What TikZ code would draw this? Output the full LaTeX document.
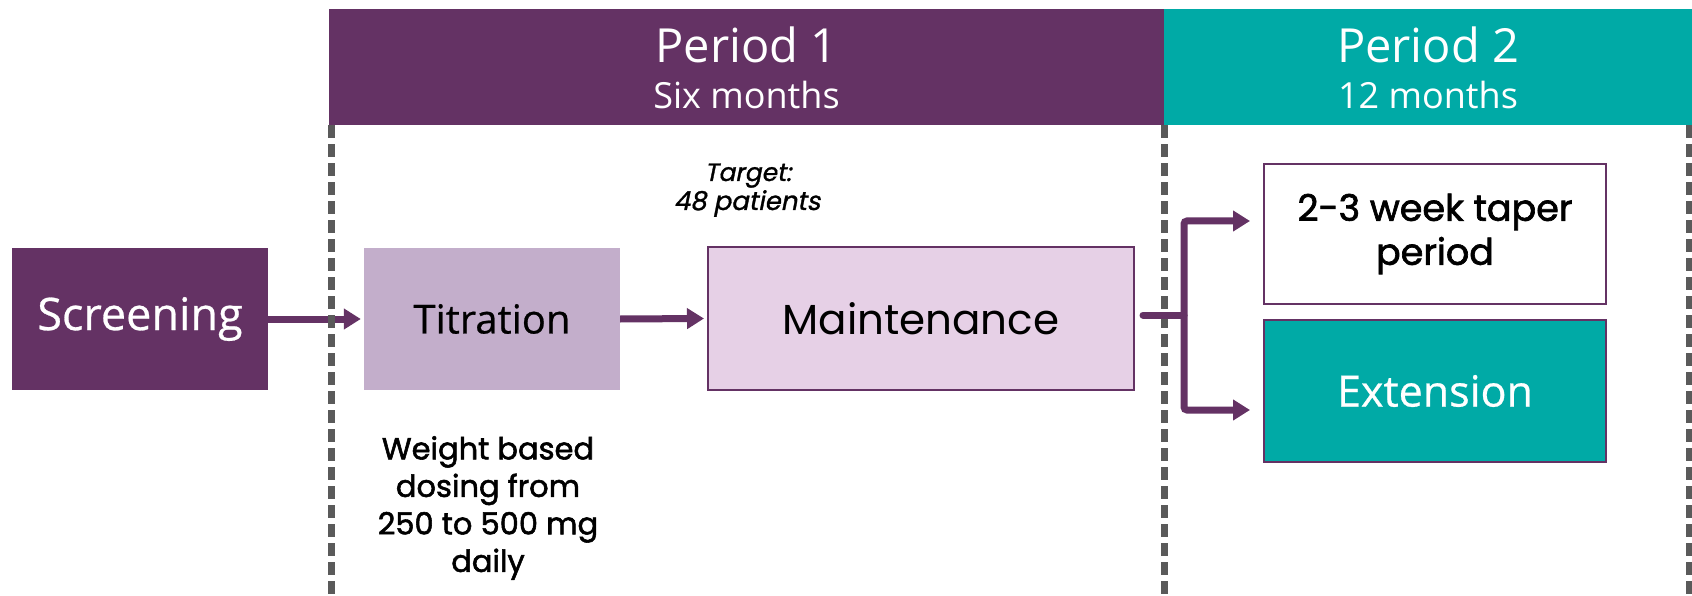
\documentclass[tikz,border=0pt]{standalone}
\usepackage{fontspec}
\usetikzlibrary{arrows.meta}
\newfontfamily\hdr{Open Sans}
\newfontfamily\hdrb[FakeBold=0.6]{Open Sans}
\newfontfamily\geo{Poppins}
\newfontfamily\geomed[FakeBold=1.8]{Poppins}
\newfontfamily\geoit[FakeSlant=0.2,FakeBold=1.2]{Poppins}
\definecolor{plum}{HTML}{643264}
\definecolor{tealx}{HTML}{00AAA6}
\definecolor{lilac}{HTML}{C3AECB}
\definecolor{pale}{HTML}{E6D0E6}
\definecolor{dashgray}{HTML}{5A5A5A}
\begin{document}
\begin{tikzpicture}[x=1pt,y=-1pt,
  banner/.style={rectangle, inner sep=0pt, draw=none},
  hdrtext/.style={text=white, inner sep=0pt, font=\hdr},
  boxx/.style={rectangle, inner sep=0pt, align=center},
  vdash/.style={draw=dashgray, line width=7pt, dash pattern=on 13pt off 6pt},
  conn/.style={draw=plum, line width=7pt},
  arr/.style={conn, -{Triangle[length=17pt,width=20pt]}},
  note/.style={inner sep=0pt, align=center, text=black}]
\useasboundingbox (0,0) rectangle (1692,596);
\fill[white] (0,0) rectangle (1692,596);

% banners
\node[banner, fill=plum, minimum width=835pt, minimum height=116pt] (p1) at (746.5,67) {};
\node[banner, fill=tealx, minimum width=528pt, minimum height=116pt] (p2) at (1428,67) {};
\node[hdrtext, anchor=base] (p1a) at (746.5,63) {\fontsize{47}{47}\selectfont Period 1};
\node[hdrtext, anchor=base] (p1b) at (746.5,109) {\fontsize{36}{36}\selectfont Six months};
\node[hdrtext, anchor=base] (p2a) at (1428,63) {\fontsize{47}{47}\selectfont Period 2};
\node[hdrtext, anchor=base] (p2b) at (1428,109) {\fontsize{36}{36}\selectfont 12 months};

% boxes
\node[boxx, fill=plum, text=white, minimum width=256pt, minimum height=142pt, font=\hdrb\fontsize{45}{45}\selectfont] (scr) at (140,319) {Screening};
\node[boxx, fill=lilac, text=black, minimum width=256pt, minimum height=142pt, font=\hdrb\fontsize{40}{40}\selectfont] (tit) at (492,319) {Titration};
\node[boxx, fill=pale, draw=plum, line width=2pt, text=black, minimum width=426pt, minimum height=143pt, font=\geo\fontsize{42}{42}\selectfont] (mai) at (921,318.5) {Maintenance};
\node[boxx, fill=white, draw=plum, line width=2pt, text=black, minimum width=342pt, minimum height=140pt, font=\geomed\fontsize{36.5}{44}\selectfont] (tap) at (1435,234) {2-3 week taper\\period};
\node[boxx, fill=tealx, draw=plum, line width=2pt, text=white, minimum width=342pt, minimum height=142pt, font=\hdrb\fontsize{43}{43}\selectfont] (ext) at (1435,391) {Extension};

% first arrow lies beneath the dashed line
\draw[arr] (scr.east) -- ([xshift=-3pt]tit.west);

% dashed separators
\draw[vdash] ([xshift=3pt]p1.south west) -- ++(0,475);
\draw[vdash] (p1.south east) -- ++(0,475);
\draw[vdash] ([xshift=-3pt]p2.south east) -- ++(0,475);

% notes
\node[note, anchor=base, font=\geoit\fontsize{25}{30}\selectfont] (tg1) at (748,181) {Target:};
\node[note, anchor=base, font=\geoit\fontsize{26}{30}\selectfont] (tg2) at (747,210) {48 patients};
\node[note, anchor=north, font=\geomed\fontsize{30.5}{37.5}\selectfont] (wt) at (488,436) {Weight based\\dosing from\\250 to 500 mg\\daily};

% connectors
\draw[arr] (tit.east) -- ([xshift=-3pt]mai.west);
\coordinate (br) at (1184,315);
\draw[conn, line cap=round] ([xshift=8pt,yshift=3.5pt]mai.east) -- (br);
\draw[arr, rounded corners=3pt] (br) |- ([xshift=-13pt,yshift=13pt]tap.west);
\draw[arr, rounded corners=3pt] (br) |- ([xshift=-13pt,yshift=-19pt]ext.west);
\end{tikzpicture}
\end{document}
